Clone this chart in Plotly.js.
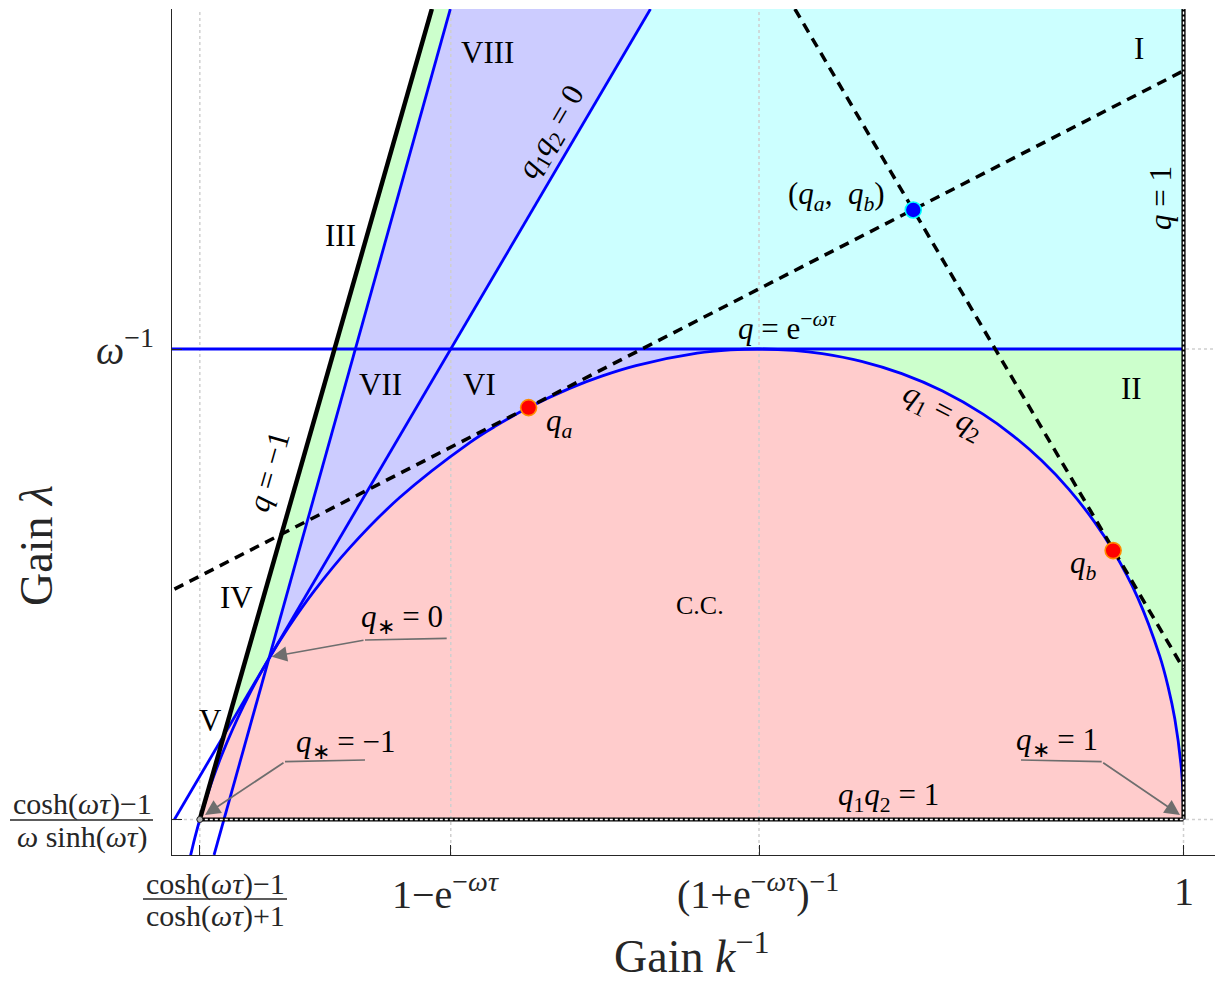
<!DOCTYPE html>
<html><head><meta charset="utf-8">
<script src="https://cdn.plot.ly/plotly-3.0.1.min.js"></script>
<style>html,body{margin:0;padding:0;background:#fff}#chart{width:1216px;height:981px}</style>
</head><body><div id="chart"></div>
<script>
// ---------- data (x = k^-1, y = lambda, omega*tau ~ 0.32) ----------
const xTickVals = [0.02517, 0.27385, 0.57932, 1.0];
const yTickVals = [0.15865, 1.0];
const xTickNum = ['cosh(<i>ωτ</i>)−1', '1−e<sup>−<i>ωτ</i></sup>', '(1+e<sup>−<i>ωτ</i></sup>)<sup>−1</sup>', '1'];
const xTickDen = ['cosh(<i>ωτ</i>)+1', '', '', ''];
const yTickNum = ['cosh(<i>ωτ</i>)−1', '<i>ω</i><sup>−1</sup>'];
const yTickDen = ['<i>ω</i> sinh(<i>ωτ</i>)', ''];

const xRange = [-0.0024, 1.0312];
const yRange = [0.09514, 1.60801];

// envelope q1 = q2 (double root q*)
const envQ = [-1.6,-1.5,-1.3,-1.15,-1,-0.9,-0.75,-0.6,-0.45,-0.3,-0.15,0,0.1,0.2,0.3,0.4,0.5,0.53,0.563,0.6,0.625,0.65,0.69,0.71,0.726,0.745,0.76,0.78,0.8,0.82,0.84,0.855,0.87,0.885,0.9,0.912,0.93,0.95,0.96,0.97,0.985,0.995,1];
const envX = [0.01505,0.01626,0.01915,0.02185,0.02517,0.02781,0.03262,0.03878,0.04682,0.05759,0.07244,0.09361,0.11308,0.13895,0.17408,0.22293,0.29234,0.31858,0.35099,0.39227,0.42343,0.45743,0.51800,0.55118,0.57932,0.61364,0.64196,0.68090,0.72082,0.76120,0.80136,0.83086,0.85937,0.88648,0.91172,0.93025,0.95470,0.97637,0.98474,0.99136,0.99783,0.99976,1.0];
const envY = [0.08653,0.09623,0.11805,0.13700,0.15865,0.17489,0.20250,0.23490,0.27337,0.31966,0.37618,0.44625,0.50261,0.56846,0.64534,0.73396,0.83227,0.86250,0.89519,0.92997,0.95139,0.97025,0.99241,0.99839,1.00000,0.99755,0.99175,0.97785,0.95589,0.92479,0.88347,0.84524,0.80049,0.74905,0.69085,0.63952,0.55492,0.45111,0.39584,0.33865,0.24993,0.18928,0.15865];
const qPeak = 0.726;

// straight boundaries (end points)
const qm1X = [0.02517, 0.25511], qm1Y = [0.15865, 1.60801];        // q = -1
const sumX = [0.03927, 0.27339], sumY = [0.09514, 1.60801];        // q1 + q2 = 0
const prod0X = [0.0, 0.47175], prod0Y = [0.15865, 1.60801];        // q1 q2 = 0
const qExpX = [-0.0024, 1.0], qExpY = [1.0, 1.0];                   // q = e^{-wt}
const q1X = [1.0, 1.0], q1Y = [0.15865, 1.60801];                   // q = 1
const prod1X = [0.02517, 1.0], prod1Y = [0.15865, 0.15865];         // q1 q2 = 1
const tanAX = [0.0, 1.0], tanAY = [0.5705, 1.4975];                 // tangent at qa
const tanBX = [0.6149, 1.0], tanBY = [1.60801, 0.4283];             // tangent at qb
const crossPt = [0.04910, 0.30951];    // q=-1 meets q1q2=0
const prod0AtOne = [0.27385, 1.0];     // q1q2=0 meets lambda = 1/omega
const ptQa = [0.35099, 0.89519], ptQb = [0.93025, 0.63952], ptQab = [0.7322, 1.2486];

// ---------- helpers ----------
function envPart(a, b) {
  const xs = [], ys = [];
  envQ.forEach((q, i) => { if (q >= a - 1e-9 && q <= b + 1e-9) { xs.push(envX[i]); ys.push(envY[i]); } });
  return [xs, ys];
}
const PX = px => (px - 172) / 1043;
const PY = py => (855 - py) / 846;

const traces = [];
function fillTrace(xs, ys, color) {
  traces.push({type:'scatter', mode:'lines', x:xs, y:ys, fill:'toself', fillcolor:color,
    line:{width:0, color:color}, hoverinfo:'skip', showlegend:false});
}
function lineTrace(xs, ys, color, width, dash, shape) {
  traces.push({type:'scatter', mode:'lines', x:xs, y:ys,
    line:{color:color, width:width, dash:dash || 'solid', shape: shape || 'linear'},
    hoverinfo:'skip', showlegend:false});
}

// ---------- fills ----------
const PINK = 'rgb(255,204,204)', GREEN = 'rgb(204,255,204)', CYAN = 'rgb(204,255,255)', PURP = 'rgb(204,204,255)';
const [e01x, e01y] = envPart(0, 1);
fillTrace([qm1X[0], crossPt[0], ...e01x], [qm1Y[0], crossPt[1], ...e01y], PINK);
const [eR1x, eR1y] = envPart(qPeak, 1);
fillTrace([envX[envQ.indexOf(qPeak)], 1, 1, ...eR1x.slice().reverse()],
          [1, 1, q1Y[0], ...eR1y.slice().reverse()], GREEN);
fillTrace([prod0AtOne[0], prod0X[1], q1X[1], q1X[0]], [prod0AtOne[1], prod0Y[1], q1Y[1], 1], CYAN);
const [e0px, e0py] = envPart(0, qPeak);
fillTrace([sumX[1], ...e0px, prod0AtOne[0], prod0X[1]], [sumY[1], ...e0py, prod0AtOne[1], prod0Y[1]], PURP);
const q0i = envQ.indexOf(0);
fillTrace([qm1X[1], sumX[1], envX[q0i], crossPt[0]], [qm1Y[1], sumY[1], envY[q0i], crossPt[1]], GREEN);

// ---------- grid (dotted) ----------
xTickVals.forEach(v => lineTrace([v, v], yRange, '#cfcfcf', 1.5, '3px,3px'));
yTickVals.forEach(v => lineTrace(xRange, [v, v], '#cfcfcf', 1.5, '3px,3px'));

// ---------- boundaries ----------
lineTrace(qExpX, qExpY, '#0000ff', 2.8);
lineTrace(prod0X, prod0Y, '#0000ff', 2.8);
lineTrace(sumX, sumY, '#0000ff', 2.8);
lineTrace(envX, envY, '#0000ff', 2.8, 'solid', 'spline');
lineTrace(q1X, q1Y, '#000000', 4.2);
lineTrace(q1X, q1Y, '#ffffff', 1.4, '3px,2px');
lineTrace(prod1X, prod1Y, '#000000', 4.2);
lineTrace(prod1X, prod1Y, '#ffffff', 1.4, '3px,2px');
lineTrace(qm1X, qm1Y, '#000000', 4.5);
lineTrace(tanAX, tanAY, '#000000', 3.5, '10px,7px');
lineTrace(tanBX, tanBY, '#000000', 3.5, '10px,7px');

// ---------- points ----------
traces.push({type:'scatter', mode:'markers', x:[qm1X[0]], y:[qm1Y[0]],
  marker:{size:6, color:'#b0b0b0', line:{color:'#222', width:1}}, hoverinfo:'skip', showlegend:false});
traces.push({type:'scatter', mode:'markers', x:[ptQa[0], ptQb[0]], y:[ptQa[1], ptQb[1]],
  marker:{size:16, color:'#ff0000', line:{color:'#ff8c00', width:1.6}}, hoverinfo:'skip', showlegend:false});
traces.push({type:'scatter', mode:'markers', x:[ptQab[0]], y:[ptQab[1]],
  marker:{size:16, color:'#0000ff', line:{color:'#00ffff', width:1.6}}, hoverinfo:'skip', showlegend:false});

// ---------- text ----------
const ann = [];
function txt(text, px, py, size, angle, color) {
  ann.push({xref:'paper', yref:'paper', x:PX(px), y:PY(py), text:text, showarrow:false,
    xanchor:'center', yanchor:'middle', textangle: angle || 0,
    font:{size:size, color: color || '#000000', family:'Liberation Serif, serif'}});
}
const TICKC = '#262626';
// x tick labels
txt(xTickNum[0], 215, 884, 30, 0, TICKC);
txt(xTickDen[0], 215, 916, 30, 0, TICKC);
txt(xTickNum[1], 445, 891, 40, 0, TICKC);
txt(xTickNum[2], 758, 891, 40, 0, TICKC);
txt(xTickNum[3], 1184, 892, 40, 0, TICKC);
// y tick labels
txt(yTickNum[0], 82, 804, 30, 0, TICKC);
txt(yTickDen[0], 82, 837, 30, 0, TICKC);
txt(yTickNum[1], 125, 347, 40, 0, TICKC);
// axis titles
txt('Gain <i>k</i><sup>−1</sup>', 692, 953, 46, 0, TICKC);
txt('Gain <i>λ</i>', 36, 546, 46, -90, TICKC);
// region labels
[['I',1139,48],['II',1131,388],['III',340,235],['IV',236,597],['V',210,720],
 ['VI',479,384],['VII',380,384],['VIII',487,52]].forEach(r => txt(r[0], r[1], r[2], 31));
txt('C.C.', 700, 605, 26);
// curve labels
txt('<i>q</i><sub>1</sub><i>q</i><sub>2</sub> = 0', 552, 133, 31, -59.6);
txt('<i>q</i> = 1', 1160, 198, 31, -90);
txt('<i>q</i> = e<sup>−<i>ωτ</i></sup>', 787, 326, 31);
txt('<i>q</i><sub>1</sub> = <i>q</i><sub>2</sub>', 943, 412, 31, 27);
txt('<i>q</i> = −1', 268, 472, 31, -74);
txt('<i>q</i><sub>∗</sub> = 0', 402, 619, 31);
txt('<i>q</i><sub>∗</sub> = −1', 345, 744, 31);
txt('<i>q</i><sub>∗</sub> = 1', 1057, 742, 31);
txt('<i>q</i><sub>1</sub><i>q</i><sub>2</sub> = 1', 888, 797, 31);
txt('(<i>q</i><sub><i>a</i></sub>,  <i>q</i><sub><i>b</i></sub>)', 836, 196, 31);
txt('<i>q</i><sub><i>a</i></sub>', 559, 423, 31);
txt('<i>q</i><sub><i>b</i></sub>', 1083, 565, 31);

// arrows (head at tip, tail at the kink)
function arrow(tipX, tipY, kinkX, kinkY) {
  ann.push({xref:'paper', yref:'paper', x:PX(tipX), y:PY(tipY), axref:'pixel', ayref:'pixel',
    ax:kinkX - tipX, ay:kinkY - tipY, text:'', showarrow:true,
    arrowhead:2, arrowsize:1.8, arrowwidth:1.7, arrowcolor:'#6e6e6e', standoff:0, startstandoff:0});
}
arrow(271.7, 656.7, 365, 640);
arrow(205, 815, 285, 761.7);
arrow(1180, 815, 1101.7, 761.7);

const shapes = [];
function seg(x0p, y0p, x1p, y1p, color, w) {
  shapes.push({type:'line', xref:'paper', yref:'paper', x0:PX(x0p), y0:PY(y0p), x1:PX(x1p), y1:PY(y1p),
    line:{color:color, width:w}});
}
seg(446.7, 638.3, 365, 640, '#6e6e6e', 1.7);
seg(365, 760, 285, 761.7, '#6e6e6e', 1.7);
seg(1021, 760, 1101.7, 761.7, '#6e6e6e', 1.7);
// fraction bars
seg(143, 899, 287, 899, TICKC, 1.6);
seg(10, 820, 153, 820, TICKC, 1.6);

const axisCommon = {showline:true, linecolor:'#262626', linewidth:1.2, ticks:'inside', ticklen:10,
  tickcolor:'#262626', tickwidth:1.2, showticklabels:false, showgrid:false, zeroline:false, fixedrange:true};

const layout = {
  width:1216, height:981,
  margin:{l:172, r:1, t:9, b:126, pad:0},
  paper_bgcolor:'#ffffff', plot_bgcolor:'#ffffff',
  font:{family:'Liberation Serif, serif', color:'#000', size:30},
  xaxis:Object.assign({range:xRange, tickvals:xTickVals}, axisCommon),
  yaxis:Object.assign({range:yRange, tickvals:yTickVals}, axisCommon),
  annotations:ann, shapes:shapes, showlegend:false
};
Plotly.newPlot('chart', traces, layout, {displayModeBar:false});
</script>
</body></html>
